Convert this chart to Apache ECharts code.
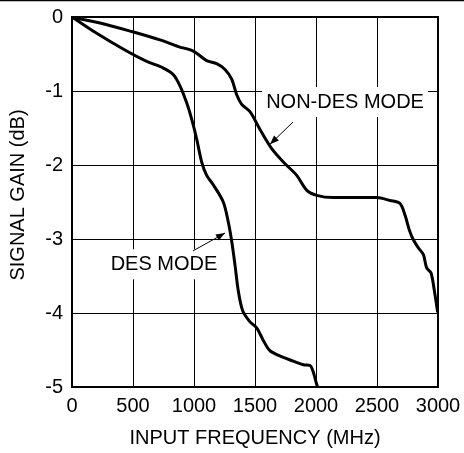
<!DOCTYPE html>
<html><head><meta charset="utf-8">
<script src="https://cdn.jsdelivr.net/npm/echarts@6/dist/echarts.min.js"></script>
<style>html,body{margin:0;padding:0;background:#fff}#c{width:464px;height:453px}</style>
</head><body><div id="c"></div>
<script>
const xTicks = [0, 500, 1000, 1500, 2000, 2500, 3000];
const yTicks = [0, -1, -2, -3, -4, -5];
const nonDesX = [10, 230, 497, 721, 872, 994, 1104, 1186, 1254, 1309, 1350, 1391, 1459, 1541, 1637, 1732, 1842, 1923, 2005, 2142, 2497, 2607, 2689, 2730, 2765, 2798, 2839, 2880, 2907, 2943, 2975, 2997];
const nonDesY = [-0.01, -0.08, -0.20, -0.31, -0.40, -0.46, -0.59, -0.63, -0.71, -0.84, -1.05, -1.18, -1.28, -1.52, -1.78, -1.96, -2.14, -2.34, -2.41, -2.44, -2.44, -2.48, -2.52, -2.68, -2.88, -3.01, -3.12, -3.21, -3.39, -3.46, -3.75, -3.99];
const desX = [10, 202, 448, 612, 749, 831, 885, 940, 981, 1022, 1063, 1104, 1159, 1240, 1281, 1309, 1336, 1363, 1399, 1459, 1514, 1568, 1623, 1732, 1814, 1896, 1951, 1978, 2005, 2013];
const desY = [-0.01, -0.22, -0.46, -0.60, -0.69, -0.78, -0.93, -1.16, -1.38, -1.65, -1.96, -2.14, -2.27, -2.50, -2.77, -3.03, -3.35, -3.70, -3.97, -4.12, -4.20, -4.37, -4.51, -4.60, -4.65, -4.70, -4.71, -4.80, -4.96, -5.0];
const annotations = [
  {text: 'NON-DES MODE', at: [2238, -1.15], from: [1811, -1.42], to: [1623, -1.72]},
  {text: 'DES MODE', at: [754, -3.34], from: [992, -3.16], to: [1254, -2.92]}
];
const zip = (a, b) => a.map((v, i) => [v, b[i]]);
const FONT = '"Liberation Sans", Arial, sans-serif';
const FS = 20;
const chart = echarts.init(document.getElementById('c'));
chart.setOption({
  animation: false,
  backgroundColor: '#fff',
  grid: {left: 72, top: 17, width: 366, height: 373, containLabel: false},
  xAxis: {
    type: 'value', min: 0, max: 3000, interval: 500,
    name: 'INPUT FREQUENCY (MHz)', nameLocation: 'middle', nameGap: 41,
    nameTextStyle: {fontFamily: FONT, fontSize: FS, color: '#000'},
    axisLine: {show: false}, axisTick: {show: false},
    axisLabel: {fontFamily: FONT, fontSize: FS, color: '#000', margin: 9, formatter: v => String(v)},
    splitLine: {show: true, lineStyle: {color: '#000', width: 1}}
  },
  yAxis: {
    type: 'value', min: -5, max: 0, interval: 1,
    name: 'SIGNAL GAIN (dB)', nameLocation: 'middle', nameGap: 44,
    nameTextStyle: {fontFamily: FONT, fontSize: FS, color: '#000', padding: [0, 0, 0, 14]},
    axisLine: {show: false}, axisTick: {show: false},
    axisLabel: {fontFamily: FONT, fontSize: FS, color: '#000', margin: 9, formatter: v => String(v)},
    splitLine: {show: true, lineStyle: {color: '#000', width: 1}}
  },
  series: [
    {type: 'line', data: zip(nonDesX, nonDesY), smooth: 0.3, showSymbol: false, lineStyle: {color: '#000', width: 3}, z: 5},
    {type: 'line', data: zip(desX, desY), smooth: 0.3, showSymbol: false, lineStyle: {color: '#000', width: 3}, z: 5}
  ]
});
const gr = [];
const p = (d) => chart.convertToPixel({gridIndex: 0}, d);
const tl = p([0, 0]), br = p([3000, -5]);
gr.push({type: 'rect', shape: {x: tl[0], y: tl[1], width: br[0] - tl[0], height: br[1] - tl[1]}, style: {fill: 'none', stroke: '#000', lineWidth: 2}, z: 10});
gr.push({type: 'line', shape: {x1: 0, y1: 0.5, x2: 464, y2: 0.5}, style: {stroke: '#000', lineWidth: 1.5}, z: 10});
annotations.forEach(a => {
  const c = p(a.at), f = p(a.from), t = p(a.to);
  gr.push({type: 'text', x: c[0], y: c[1], z: 8,
    style: {text: a.text, font: FS + 'px ' + FONT, fill: '#000', align: 'center', verticalAlign: 'middle',
      backgroundColor: '#fff', padding: [4, 4, 6, 4]}});
  gr.push({type: 'line', shape: {x1: f[0], y1: f[1], x2: t[0], y2: t[1]}, style: {stroke: '#000', lineWidth: 1}, z: 9});
  const ang = Math.atan2(t[1] - f[1], t[0] - f[0]);
  const L = 9, W = 3.5;
  const bx = t[0] - L * Math.cos(ang), by = t[1] - L * Math.sin(ang);
  gr.push({type: 'polygon', z: 9, shape: {points: [
    [t[0], t[1]],
    [bx + W * Math.sin(ang), by - W * Math.cos(ang)],
    [bx - W * Math.sin(ang), by + W * Math.cos(ang)]
  ]}, style: {fill: '#000'}});
});
chart.setOption({graphic: gr});
</script></body></html>
